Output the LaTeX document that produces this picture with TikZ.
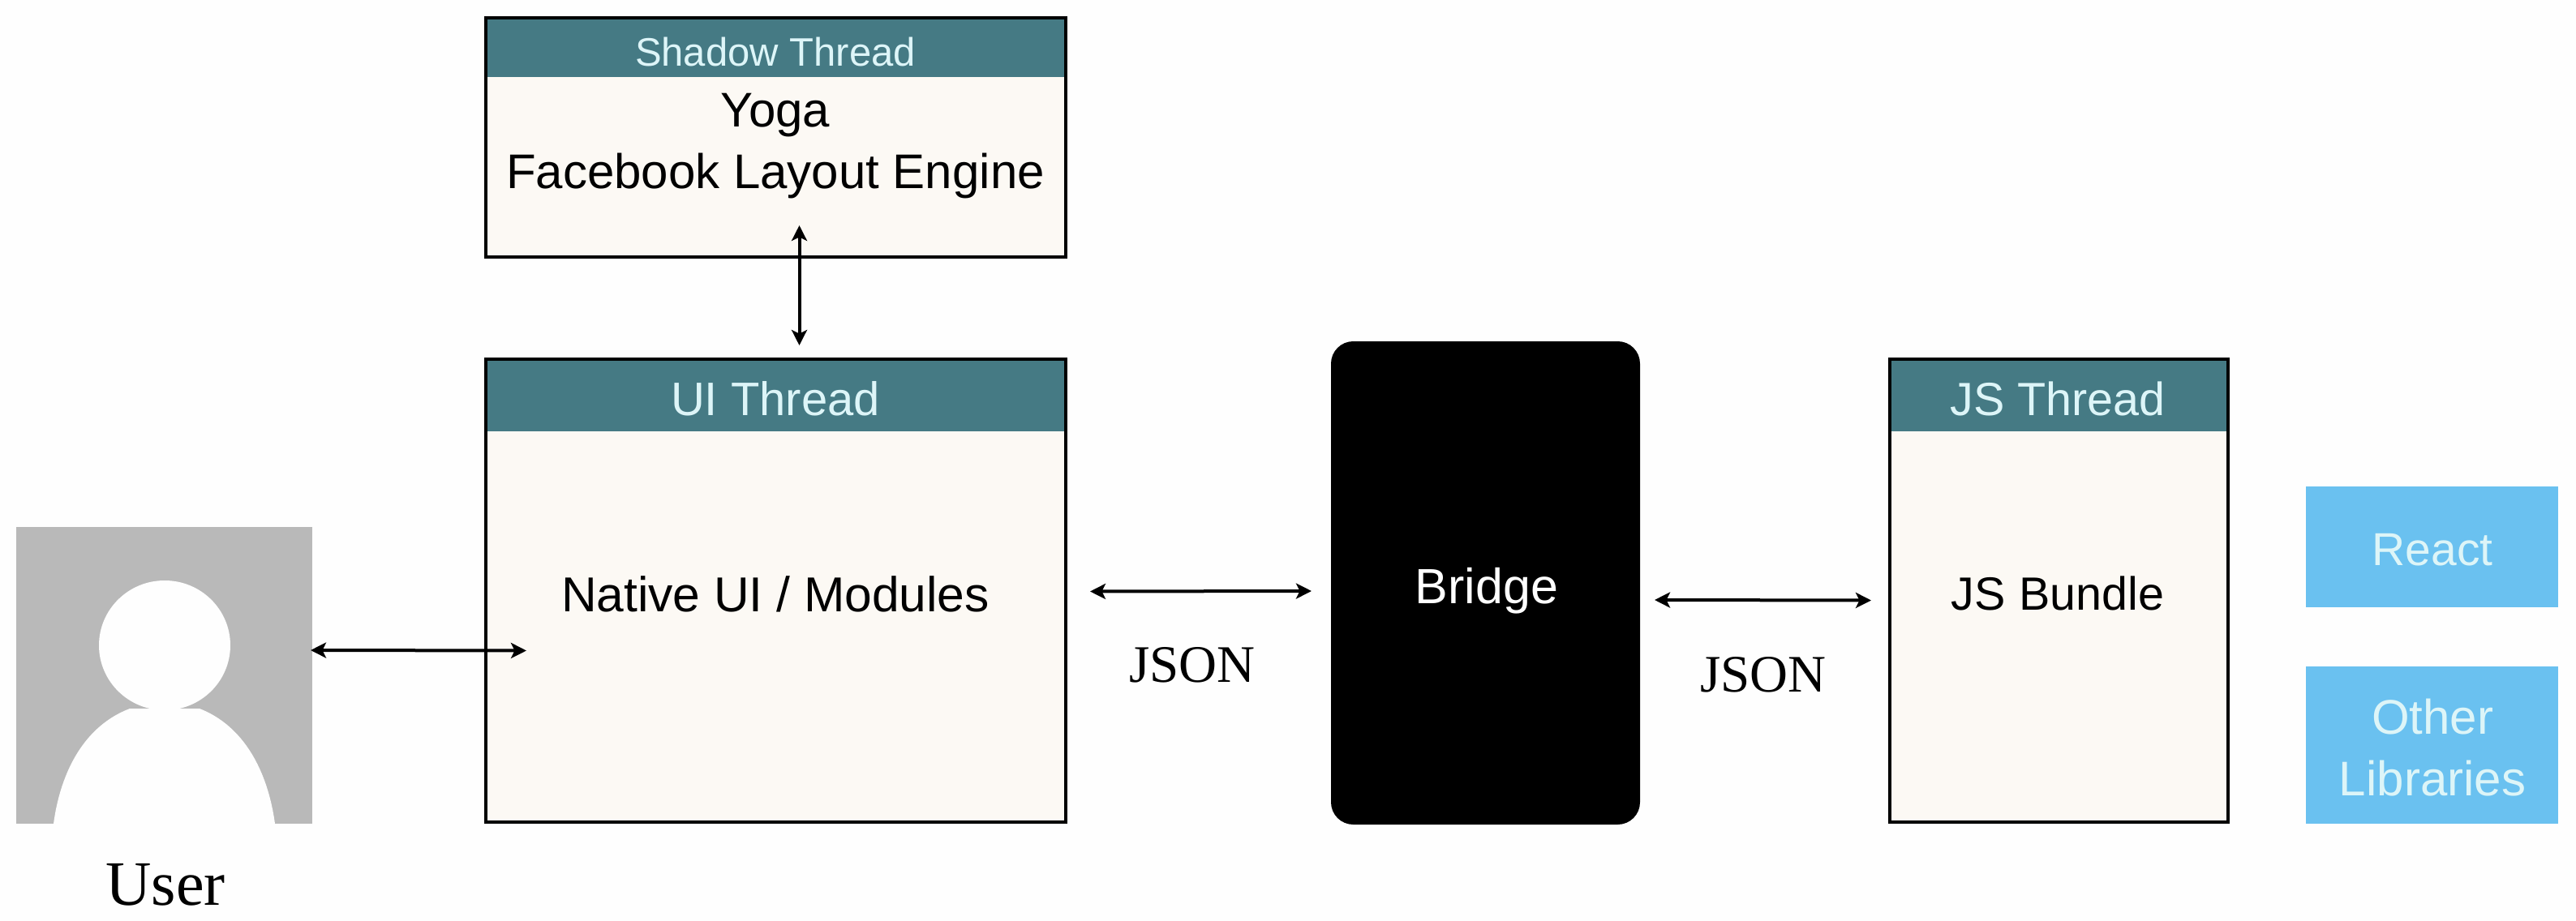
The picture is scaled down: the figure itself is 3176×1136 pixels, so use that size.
\documentclass[tikz,border=0pt]{standalone}
\usepackage{fontspec}
\setmainfont{Liberation Sans}
\newfontfamily\serifface{Liberation Serif}
\usepackage{xcolor}
\usetikzlibrary{calc,arrows.meta}
\definecolor{pagebg}{HTML}{FEFEFE}
\definecolor{headteal}{HTML}{457A84}
\definecolor{headtext}{HTML}{DDF5F8}
\definecolor{bodycream}{HTML}{FCF9F4}
\definecolor{avatargray}{HTML}{B9B9B9}
\definecolor{libblue}{HTML}{6AC1F0}
\newcommand{\pxfont}[2]{\pgfmathparse{#1*0.569}\edef\pxsize{\pgfmathresult}\pgfmathparse{#2*0.569}\fontsize{\pxsize}{\pgfmathresult}\selectfont}
\tikzset{
    boxsize/.style 2 args={minimum width=#1*0.2mm, minimum height=#2*0.2mm, inner sep=0pt, outer sep=0pt, anchor=north west},
    threadbody/.style={draw=black, line width=0.95mm, fill=bodycream},
    threadhead/.style={fill=headteal},
    headlabel/.style={draw=none, text=headtext, align=center},
    libbox/.style={fill=libblue},
    link/.style={line width=0.8mm, black, {Stealth[length=3.8mm,width=3.8mm,inset=0.9mm]}-{Stealth[length=3.8mm,width=3.8mm,inset=0.9mm]}},
}
\begin{document}
\begin{tikzpicture}[x=0.2mm,y=-0.2mm]
        \path[fill=pagebg,use as bounding box] (0,0) rectangle (3176,1136);

        % user
        \node[boxsize={365}{366}, fill=avatargray] (user) at (20,650) {};
        \fill[pagebg] (66,1016) .. controls (75,950) and (105,895) .. (160,874) -- (246,874) .. controls (300,895) and (330,950) .. (339,1016) -- cycle;
        \fill[pagebg] (203,796) ellipse (81 and 80);
        \node[draw=none, font=\serifface\pxfont{78}{90}] (userlabel) at (204,1091) {User};

        % shadow thread
        \node[boxsize={715}{295}, threadbody] (shadowbody) at (599,22) {};
        \node[boxsize={711}{71}, threadhead] (shadowhead) at (601,24) {};
        \node[headlabel, font=\pxfont{49}{60}] (shadowlabel) at (956,64) {Shadow Thread};
        \node[draw=none, align=center, font=\pxfont{60}{76}] (yoga) at (956,180) {Yoga\\Facebook Layout Engine};

        % ui thread
        \node[boxsize={715}{571}, threadbody] (uibody) at (599,443) {};
        \node[boxsize={711}{87}, threadhead] (uihead) at (601,445) {};
        \node[headlabel, font=\pxfont{58}{70}] (uilabel) at (956,492) {UI Thread};
        \node[draw=none, font=\pxfont{60.5}{70}] (native) at (956,733) {Native UI / Modules};

        % bridge
        \node[boxsize={381}{596}, fill=black, rounded corners=5.5mm] (bridge) at (1641,421) {};
        \node[draw=none, text=white, font=\pxfont{61}{70}] (bridgelabel) at (1833,729) {Bridge};

        % js thread
        \node[boxsize={417}{571}, threadbody] (jsbody) at (2330,443) {};
        \node[boxsize={413}{87}, threadhead] (jshead) at (2332,445) {};
        \node[headlabel, font=\pxfont{57.5}{70}] (jslabel) at (2537,492) {JS Thread};
        \node[draw=none, font=\pxfont{57.5}{70}] (jsbundle) at (2537,732) {JS Bundle};

        % libraries
        \node[boxsize={311}{149}, libbox] (react) at (2843,600) {};
        \node[headlabel, font=\pxfont{57}{76}] (reactlabel) at (2999,678) {React};
        \node[boxsize={311}{194}, libbox] (other) at (2843,822) {};
        \node[headlabel, font=\pxfont{60}{76}] (otherlabel) at (2999,922) {Other\\Libraries};

        % connectors
        \draw[link] ($(user.east)+(-2,-31)$) -- ($(uibody.west)+(50,74)$);
        \draw[link] ($(shadowbody.south)+(29,-39)$) -- ($(uibody.north)+(29,-17)$);
        \draw[link] ($(uibody.east)+(30,1)$) -- ($(bridge.west)+(-24,10)$);
        \draw[link] ($(bridge.east)+(18,21)$) -- ($(jsbody.west)+(-23,12)$);

        % labels
        \node[draw=none, font=\serifface\pxfont{65}{75}] (jsonleft) at (1470,820) {JSON};
        \node[draw=none, font=\serifface\pxfont{65}{75}] (jsonright) at (2174,832) {JSON};
    \end{tikzpicture}
\end{document}
